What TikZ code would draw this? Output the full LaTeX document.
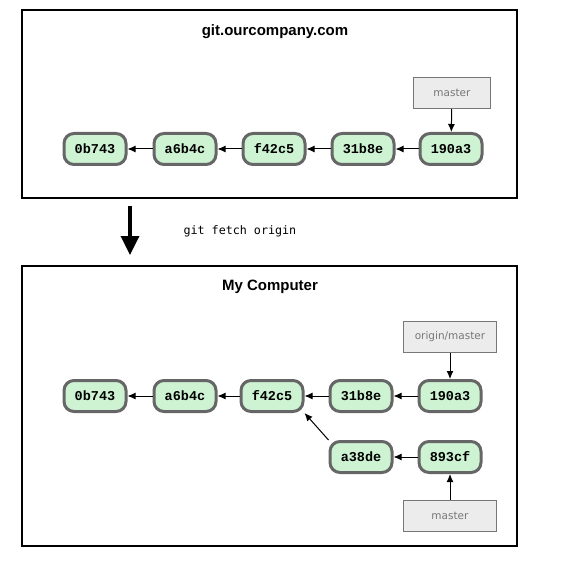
\documentclass[tikz,border=0pt]{standalone}
\usepackage{fontspec}
\setmainfont{Liberation Sans}
\newfontfamily\commitfont{Liberation Mono}
\newfontfamily\cmdfont{DejaVu Sans Mono}
\newfontfamily\reffont{DejaVu Sans}
\usetikzlibrary{arrows.meta}
\definecolor{cfill}{HTML}{CDF3D3}
\definecolor{cdraw}{HTML}{666666}
\definecolor{rfill}{HTML}{ECECEC}
\definecolor{rdraw}{HTML}{777777}
\begin{document}
\begin{tikzpicture}[x=1pt,y=-1pt,
  commit/.style={draw=cdraw, fill=cfill, line width=3pt, rounded corners=10pt,
    minimum width=62pt, minimum height=31pt, inner sep=0pt,
    font=\commitfont\bfseries\fontsize{13.5}{14}\selectfont},
  refbox/.style={draw=rdraw, fill=rfill, line width=1.5pt, minimum height=31pt,
    inner sep=0pt, text=rdraw, font=\reffont\fontsize{10.5}{11}\selectfont},
  frame/.style={draw=black, line width=1.6pt},
  link/.style={-{Latex[length=8pt,width=7pt]}, line width=1pt},
  title/.style={font=\bfseries\fontsize{15}{16}\selectfont}]
\useasboundingbox (0,0) rectangle (561,564);
% top box
\draw[frame] (22,10) rectangle (517,198);
\node[title] (t1) at (275,32) {git.ourcompany.com};
\node[commit] (a1) at (95,149) {0b743};
\node[commit] (b1) at (185,149) {a6b4c};
\node[commit] (c1) at (274,149) {f42c5};
\node[commit] (d1) at (363,149) {31b8e};
\node[commit] (e1) at (451,149) {190a3};
\node[refbox, minimum width=77pt] (m1) at (452,93) {master};
\draw[link] (b1) -- (a1);
\draw[link] (c1) -- (b1);
\draw[link] (d1) -- (c1);
\draw[link] (e1) -- (d1);
\draw[link] (m1) -- (e1);
% fetch arrow
\coordinate (fa) at (130,206);
\coordinate (fb) at (130,255);
\draw[line width=3.5pt, -{Triangle[length=19pt,width=18pt]}] (fa) -- (fb);
\node[font=\cmdfont\fontsize{11.7}{12}\selectfont, anchor=west] (cmd) at (180,231) {git fetch origin};
% bottom box
\draw[frame] (22,266) rectangle (517,546);
\node[title] (t2) at (270,287) {My Computer};
\node[commit] (a2) at (95,396) {0b743};
\node[commit] (b2) at (185,396) {a6b4c};
\node[commit] (c2) at (272,396) {f42c5};
\node[commit] (d2) at (361,396) {31b8e};
\node[commit] (e2) at (450,396) {190a3};
\node[commit] (f2) at (361,457) {a38de};
\node[commit] (g2) at (450,457) {893cf};
\node[refbox, minimum width=93pt] (om) at (450,337) {origin/master};
\node[refbox, minimum width=93pt] (m2) at (450,516) {master};
\draw[link] (b2) -- (a2);
\draw[link] (c2) -- (b2);
\draw[link] (d2) -- (c2);
\draw[link] (e2) -- (d2);
\draw[link] (g2) -- (f2);
\draw[link] (f2.north west) -- (c2.south east);
\draw[link] (om) -- (e2);
\draw[link] (m2) -- (g2);
\end{tikzpicture}
\end{document}
